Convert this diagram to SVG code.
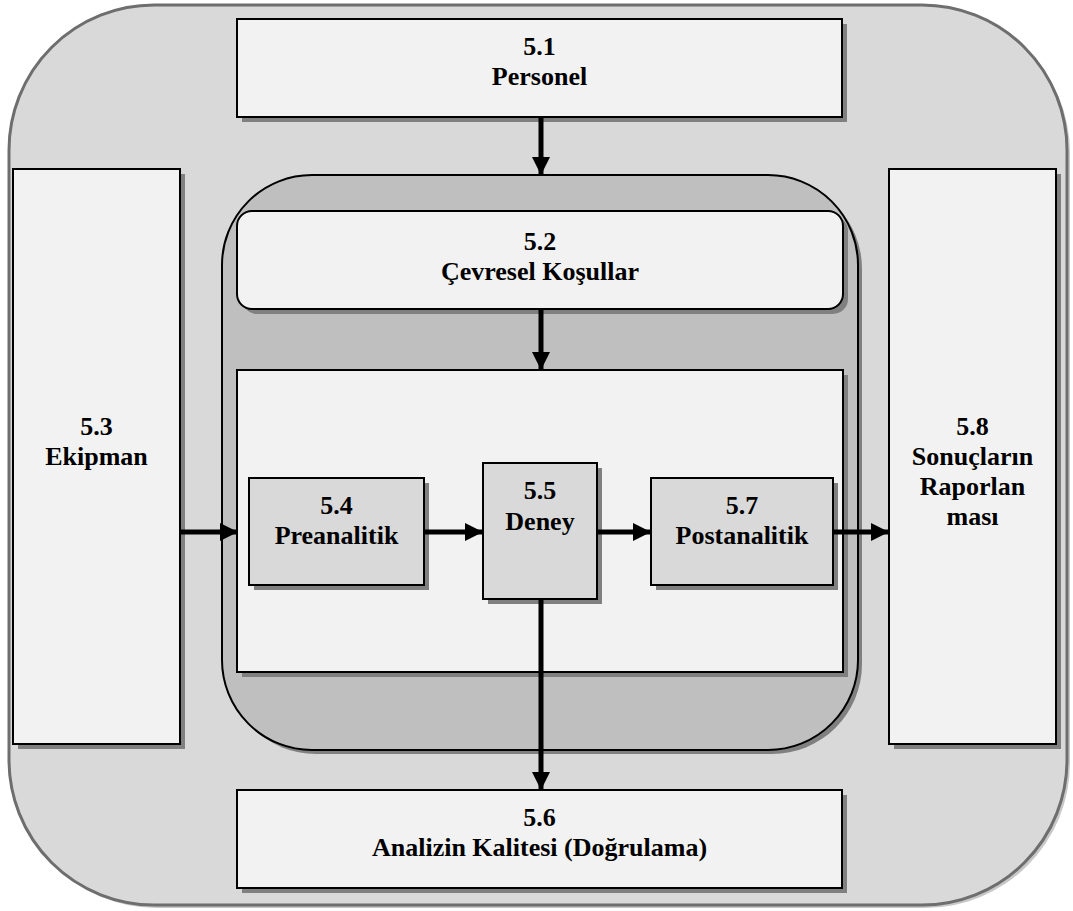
<svg xmlns="http://www.w3.org/2000/svg" width="1073" height="911" viewBox="0 0 1073 911">
  <style>
    .box { fill: #f2f2f2; stroke: #000; stroke-width: 2; }
    .proc { fill: #d9d9d9; stroke: #000; stroke-width: 2; }
    .shadow { fill: #808080; stroke: none; }
    .lbl { font-family: "Liberation Serif", "Times New Roman", serif; font-weight: bold; font-size: 26px; fill: #000; text-anchor: middle; }
    .conn { stroke: #000; stroke-width: 5; fill: none; marker-end: url(#arrow); }
  </style>
  <defs>
    <marker id="arrow" markerUnits="userSpaceOnUse" markerWidth="20" markerHeight="18" refX="18" refY="9" orient="auto">
      <path d="M0,0 L18,9 L0,18 Z" fill="#000"/>
    </marker>
  </defs>

  <!-- outer frame -->
  <g id="frame">
    <rect x="12" y="8" width="1058" height="900" rx="145" ry="145" fill="#c8c8c8"/>
    <rect x="9" y="5" width="1058" height="900" rx="145" ry="145" fill="#d9d9d9" stroke="#6e6e6e" stroke-width="3"/>
  </g>

  <!-- inner container -->
  <g id="container">
    <rect x="226" y="179" width="636" height="575" rx="90" ry="90" class="shadow"/>
    <rect x="222" y="175" width="636" height="575" rx="90" ry="90" fill="#bfbfbf" stroke="#000" stroke-width="2"/>
    <rect x="242" y="375" width="606" height="302" class="shadow"/>
    <rect x="237" y="370" width="606" height="302" class="box"/>
  </g>

  <g id="n51">
    <rect x="242" y="24" width="605" height="98" class="shadow"/>
    <rect x="237" y="19" width="605" height="98" class="box"/>
    <text x="539.5" y="55" class="lbl">5.1</text>
    <text x="539.5" y="85" class="lbl">Personel</text>
  </g>

  <g id="n52">
    <rect x="242" y="216" width="606" height="98" rx="15" ry="15" class="shadow"/>
    <rect x="237" y="211" width="606" height="98" rx="15" ry="15" class="box"/>
    <text x="540" y="250" class="lbl">5.2</text>
    <text x="540" y="280" class="lbl">Çevresel Koşullar</text>
  </g>

  <g id="n53">
    <rect x="18" y="174" width="167" height="575" class="shadow"/>
    <rect x="13" y="169" width="167" height="575" class="box"/>
    <text x="96.5" y="435" class="lbl">5.3</text>
    <text x="96.5" y="465" class="lbl">Ekipman</text>
  </g>

  <g id="n54">
    <rect x="254" y="483" width="175" height="107" class="shadow"/>
    <rect x="249" y="478" width="175" height="107" class="proc"/>
    <text x="336.5" y="514" class="lbl">5.4</text>
    <text x="336.5" y="544" class="lbl">Preanalitik</text>
  </g>

  <g id="n55">
    <rect x="488" y="468" width="114" height="136" class="shadow"/>
    <rect x="483" y="463" width="114" height="136" class="proc"/>
    <text x="540" y="499" class="lbl">5.5</text>
    <text x="540" y="530" class="lbl">Deney</text>
  </g>

  <g id="n57">
    <rect x="656" y="483" width="182" height="107" class="shadow"/>
    <rect x="651" y="478" width="182" height="107" class="proc"/>
    <text x="742" y="514" class="lbl">5.7</text>
    <text x="742" y="544" class="lbl">Postanalitik</text>
  </g>

  <g id="n56">
    <rect x="242" y="795" width="605" height="98" class="shadow"/>
    <rect x="237" y="790" width="605" height="98" class="box"/>
    <text x="539.5" y="826" class="lbl">5.6</text>
    <text x="539.5" y="856" class="lbl">Analizin Kalitesi (Doğrulama)</text>
  </g>

  <g id="n58">
    <rect x="894" y="174" width="167" height="575" class="shadow"/>
    <rect x="889" y="169" width="167" height="575" class="box"/>
    <text x="972.5" y="435" class="lbl">5.8</text>
    <text x="972.5" y="465" class="lbl">Sonuçların</text>
    <text x="972.5" y="495" class="lbl">Raporlan</text>
    <text x="972.5" y="525" class="lbl">ması</text>
  </g>

  <!-- connectors -->
  <g id="connectors">
    <line x1="541" y1="118" x2="541" y2="175" class="conn"/>
    <line x1="541" y1="310" x2="541" y2="370" class="conn"/>
    <line x1="181" y1="532" x2="238" y2="532" class="conn"/>
    <line x1="425" y1="532" x2="483" y2="532" class="conn"/>
    <line x1="598" y1="532" x2="651" y2="532" class="conn"/>
    <line x1="834" y1="532" x2="889" y2="532" class="conn"/>
    <line x1="541" y1="600" x2="541" y2="790" class="conn"/>
  </g>
</svg>
